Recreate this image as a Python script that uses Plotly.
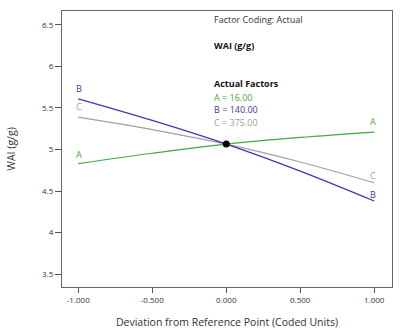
import plotly.graph_objects as go

x_dev = [-1.0, -0.5, 0.0, 0.5, 1.0]
wai_A = [4.83, 4.955, 5.065, 5.145, 5.21]
wai_B = [5.61, 5.35, 5.065, 4.74, 4.38]
wai_C = [5.39, 5.24, 5.065, 4.85, 4.60]
ref_x = [0.0]
ref_y = [5.065]

x_ticks = [-1.0, -0.5, 0.0, 0.5, 1.0]
x_ticklabels = ["-1.000", "-0.500", "0.000", "0.500", "1.000"]
y_ticks = [3.5, 4, 4.5, 5, 5.5, 6, 6.5]
y_ticklabels = ["3.5", "4", "4.5", "5", "5.5", "6", "6.5"]

colA = "#3faa3f"
colB = "#3a3aa8"
colC = "#a0a0a0"
font = "Open Sans, DejaVu Sans, sans-serif"

fig = go.Figure()
for ys, c in [(wai_C, colC), (wai_A, colA), (wai_B, colB)]:
    fig.add_trace(go.Scatter(x=x_dev, y=ys, mode="lines", line=dict(color=c, width=1.2),
                             line_shape="spline", hoverinfo="skip"))
fig.add_trace(go.Scatter(x=ref_x, y=ref_y, mode="markers",
                         marker=dict(color="black", size=7), hoverinfo="skip"))

ann = []
for lab, ys, c, sl, sr in [("A", wai_A, colA, 6, 7), ("B", wai_B, colB, 7, 3), ("C", wai_C, colC, 7, 4)]:
    ann.append(dict(x=x_dev[0], y=ys[0], text=lab, showarrow=False, xanchor="center", yanchor="bottom",
                    yshift=sl - 5, xshift=1, font=dict(color=c, size=9, family=font)))
    ann.append(dict(x=x_dev[-1], y=ys[-1], text=lab, showarrow=False, xanchor="center", yanchor="bottom",
                    yshift=sr - 5, xshift=-1, font=dict(color=c, size=9, family=font)))

px = 0.455
for txt, py, c, bold in [("Factor Coding: Actual", 0.971, "#333333", False),
                         ("WAI (g/g)", 0.874, "#111111", True),
                         ("Actual Factors", 0.737, "#111111", True),
                         ("A = 16.00", 0.687, colA, False),
                         ("B = 140.00", 0.644, colB, False),
                         ("C = 375.00", 0.597, colC, False)]:
    ann.append(dict(xref="paper", yref="paper", x=px, y=py, text=f"<b>{txt}</b>" if bold else txt,
                    showarrow=False, xanchor="left", yanchor="middle",
                    font=dict(color=c, size=9, family=font)))

fig.update_layout(
    width=407, height=336, margin=dict(l=62, r=15, t=10, b=48),
    paper_bgcolor="white", plot_bgcolor="white", showlegend=False,
    font=dict(family=font, color="#333333"),
    annotations=ann,
    xaxis=dict(range=[-1.11, 1.12], tickvals=x_ticks, ticktext=x_ticklabels, ticks="outside",
               ticklen=5, tickcolor="#555", showgrid=False, zeroline=False, showline=True,
               linecolor="#666", linewidth=1.3, mirror=True, tickfont=dict(size=8),
               title=dict(text="Deviation from Reference Point (Coded Units)", font=dict(size=10.5),
                          standoff=14)),
    yaxis=dict(range=[3.345, 6.667], tickvals=y_ticks, ticktext=y_ticklabels, ticks="outside",
               ticklen=6, tickcolor="#555", showgrid=False, zeroline=False, showline=True,
               linecolor="#666", linewidth=1.3, mirror=True, tickfont=dict(size=8),
               title=dict(text="WAI (g/g)", font=dict(size=10.5), standoff=24)),
)
fig.write_html("out.html")
